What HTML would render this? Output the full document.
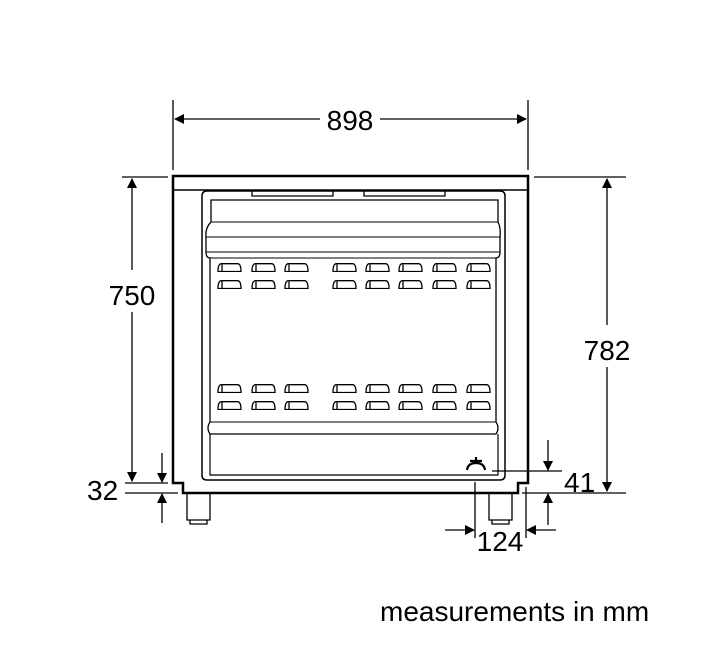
<!DOCTYPE html><html><head><style>body{margin:0;background:#fff}svg{display:block}text{font-family:"Liberation Sans",sans-serif;fill:#000}</style></head><body>
<svg width="720" height="660" viewBox="0 0 720 660" xmlns="http://www.w3.org/2000/svg">
<defs><marker id="a" markerWidth="10" markerHeight="10" refX="9" refY="5" orient="auto" markerUnits="userSpaceOnUse"><path d="M0,0 L10,5 L0,10 Z" fill="#000"/></marker>
<symbol id="v" viewBox="0 0 25 9"><path d="M1,8.5 Q1,0.7 4.5,0.7 L20.5,0.7 Q24,0.7 24,8.5 Z M5,8.5 L5,1.5" fill="none" stroke="#000" stroke-width="1.3"/></symbol></defs>
<g fill="none" stroke="#000" stroke-width="1.3">
<line x1="173" y1="100" x2="173" y2="170"/><line x1="528" y1="100" x2="528" y2="170"/>
<line x1="320" y1="119" x2="175" y2="119" marker-end="url(#a)"/><line x1="380" y1="119" x2="526" y2="119" marker-end="url(#a)"/>
<line x1="122" y1="177" x2="168" y2="177"/>
<line x1="132" y1="270" x2="132" y2="179" marker-end="url(#a)"/><line x1="132" y1="312" x2="132" y2="481" marker-end="url(#a)"/>
<line x1="534" y1="177" x2="626" y2="177"/>
<line x1="607" y1="325" x2="607" y2="179" marker-end="url(#a)"/><line x1="607" y1="367" x2="607" y2="491" marker-end="url(#a)"/>
<line x1="125" y1="483" x2="168" y2="483"/><line x1="125" y1="493" x2="178" y2="493"/>
<line x1="162" y1="453" x2="162" y2="482" marker-end="url(#a)"/><line x1="162" y1="523" x2="162" y2="494" marker-end="url(#a)"/>
<line x1="492" y1="471" x2="562" y2="471"/><line x1="522" y1="493" x2="626" y2="493"/>
<line x1="548" y1="440" x2="548" y2="470" marker-end="url(#a)"/><line x1="548" y1="525" x2="548" y2="494" marker-end="url(#a)"/>
<line x1="475" y1="482" x2="475" y2="538"/><line x1="526" y1="487" x2="526" y2="538"/>
<line x1="445" y1="530" x2="474" y2="530" marker-end="url(#a)"/><line x1="556" y1="530" x2="527" y2="530" marker-end="url(#a)"/>
</g>
<g fill="none" stroke="#000">
<path d="M173,483 L173,176 L528,176 L528,483 L518,483 L518,493 L183,493 L183,483 Z" stroke-width="2.5"/>
<line x1="173" y1="190" x2="528" y2="190" stroke-width="1.5"/>
<path d="M252,191 L252,196 L333,196 L333,191 M364,191 L364,196 L445,196 L445,191" stroke-width="1.3"/>
<path d="M207,191 L500,191 Q505,191 505,196 L505,475 Q505,480 500,480 L207,480 Q202,480 202,475 L202,196 Q202,191 207,191 Z" stroke-width="1.5"/>
<path d="M211,200 L498,200 L498,222 Q501,228 500,237 L500,252 Q500,258 496,258 L496,422 Q500,428 496,434 L210,434 Q206,428 210,422 L210,258 Q206,258 206,252 L206,237 Q205,228 211,222 Z" stroke-width="1.3"/>
<line x1="211" y1="222" x2="498" y2="222"/><line x1="206" y1="237" x2="500" y2="237"/><line x1="206" y1="252" x2="500" y2="252"/>
<line x1="210" y1="258" x2="496" y2="258"/>
<line x1="210" y1="422" x2="496" y2="422"/>
<path d="M210,434 L210,475 L498,475 L498,434" stroke-width="1.2"/>
<path d="M187,493 L187,520 L210,520 L210,493 M190,520 L190,524 L207,524 L207,520 M489,493 L489,520 L512,520 L512,493 M492,520 L492,524 L509,524 L509,520" stroke-width="1.3"/>
<path d="M467,470 Q468,463 476,463 Q484,463 485,470 M476,457 L476,463 M470,461 L482,461" stroke-width="2.2"/>
</g>
<g>
<use href="#v" x="217" y="263" width="25" height="9"/><use href="#v" x="251" y="263" width="25" height="9"/><use href="#v" x="284" y="263" width="25" height="9"/><use href="#v" x="332" y="263" width="25" height="9"/><use href="#v" x="365" y="263" width="25" height="9"/><use href="#v" x="398" y="263" width="25" height="9"/><use href="#v" x="432" y="263" width="25" height="9"/><use href="#v" x="466" y="263" width="25" height="9"/>
<use href="#v" x="217" y="280" width="25" height="9"/><use href="#v" x="251" y="280" width="25" height="9"/><use href="#v" x="284" y="280" width="25" height="9"/><use href="#v" x="332" y="280" width="25" height="9"/><use href="#v" x="365" y="280" width="25" height="9"/><use href="#v" x="398" y="280" width="25" height="9"/><use href="#v" x="432" y="280" width="25" height="9"/><use href="#v" x="466" y="280" width="25" height="9"/>
<use href="#v" x="217" y="384" width="25" height="9"/><use href="#v" x="251" y="384" width="25" height="9"/><use href="#v" x="284" y="384" width="25" height="9"/><use href="#v" x="332" y="384" width="25" height="9"/><use href="#v" x="365" y="384" width="25" height="9"/><use href="#v" x="398" y="384" width="25" height="9"/><use href="#v" x="432" y="384" width="25" height="9"/><use href="#v" x="466" y="384" width="25" height="9"/>
<use href="#v" x="217" y="401" width="25" height="9"/><use href="#v" x="251" y="401" width="25" height="9"/><use href="#v" x="284" y="401" width="25" height="9"/><use href="#v" x="332" y="401" width="25" height="9"/><use href="#v" x="365" y="401" width="25" height="9"/><use href="#v" x="398" y="401" width="25" height="9"/><use href="#v" x="432" y="401" width="25" height="9"/><use href="#v" x="466" y="401" width="25" height="9"/>
</g>
<g font-size="28">
<text x="350" y="130" text-anchor="middle">898</text>
<text x="132" y="305" text-anchor="middle">750</text>
<text x="607" y="360" text-anchor="middle">782</text>
<text x="87" y="500">32</text>
<text x="564" y="492">41</text>
<text x="500" y="551" text-anchor="middle">124</text>
<text x="380" y="621">measurements in mm</text>
</g>
</svg></body></html>
